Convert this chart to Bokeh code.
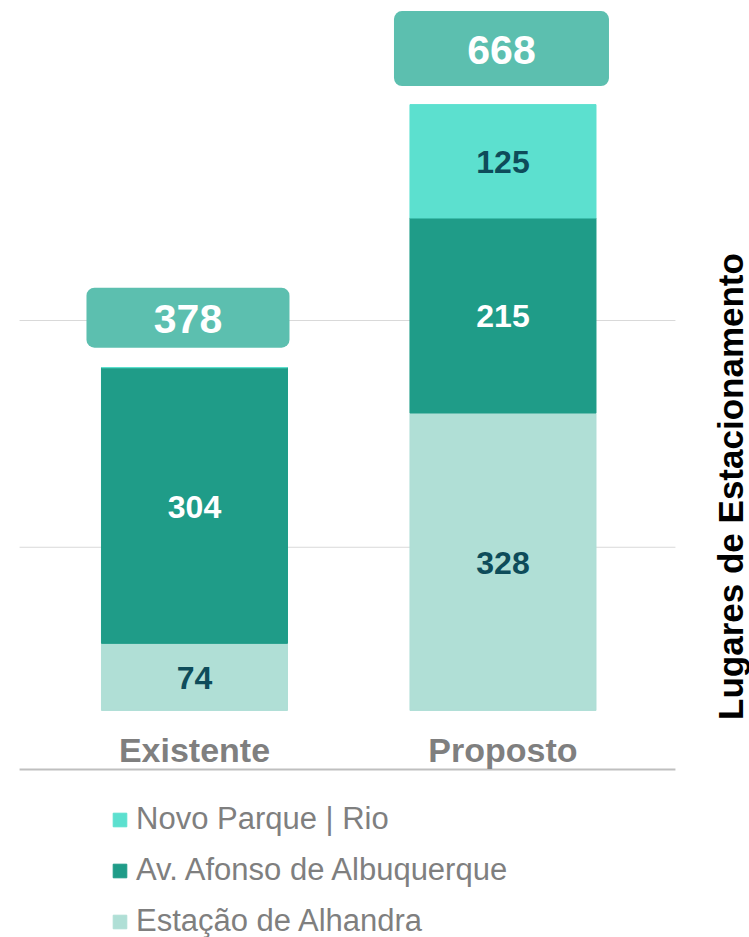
import math
from bokeh.plotting import figure
from bokeh.models import Range1d, Legend, LegendItem, Label, ColumnDataSource
from bokeh.core.properties import value
from bokeh.embed import file_html
from bokeh.resources import INLINE

# ---------------- data ----------------
categories = ["Existente", "Proposto"]
series_names = ["Estação de Alhandra", "Av. Afonso de Albuquerque", "Novo Parque | Rio"]
estacao = [74, 328]
afonso = [304, 215]
novo = [0, 125]
axis_title = "Lugares de Estacionamento"
grid_values = [180, 430]
baseline_value = -65

# ---------------- style ----------------
C_NOVO = "#5CE0CF"
C_AFONSO = "#1F9C88"
C_ESTACAO = "#B0DFD6"
C_BOX = "#5CBFAF"
C_DARK = "#0E4C5A"
C_GREY = "#7F7F7F"
FONT = "Liberation Sans"

W, H = 749, 937
X0, X1 = -0.6288, 1.7991
Y0, Y1 = -250.3, 782.8
px_per_unit_y = H / (Y1 - Y0)
px_per_unit_x = W / (X1 - X0)

totals = [a + b + c for a, b, c in zip(estacao, afonso, novo)]
xs = list(range(len(categories)))

p = figure(width=W, height=H, x_range=Range1d(X0, X1), y_range=Range1d(Y0, Y1),
           output_backend="svg", toolbar_location=None, min_border=0,
           x_axis_location=None, y_axis_location=None,
           outline_line_color=None, background_fill_color="white",
           border_fill_color="white")
p.grid.visible = False

# grid lines and base line
p.segment(x0=[-0.567] * len(grid_values), x1=[1.559] * len(grid_values),
          y0=grid_values, y1=grid_values, line_color="#D9D9D9", line_width=1.2)
p.segment(x0=[-0.567], x1=[1.559], y0=[baseline_value], y1=[baseline_value],
          line_color="#BFBFBF", line_width=2)

# stacked bars
src = ColumnDataSource(dict(x=xs, estacao=estacao, afonso=afonso, novo=novo))
rs = p.vbar_stack(["estacao", "afonso", "novo"], x="x", width=0.603, source=src,
                  color=[C_ESTACAO, C_AFONSO, C_NOVO])

# segment labels
lx, ly, lt, lc = [], [], [], []
stacks = [(estacao, C_DARK), (afonso, "white"), (novo, C_DARK)]
for i in xs:
    base = 0
    for vals, col in stacks:
        v = vals[i]
        if v > 0:
            lx.append(i)
            ly.append(base + v / 2)
            lt.append(str(v))
            lc.append(col)
        base += v
p.text(x=lx, y=ly, text=lt, text_color=lc, text_font=value(FONT),
       text_font_style="bold", text_font_size="32px", text_align="center",
       text_baseline="middle", y_offset=1)

# total boxes
box_w = [203, 215]
box_h = [60, 75]
box_gap_px = [50, 56]
box_dx_px = [-6.5, -1.5]
box_x = [x + d / px_per_unit_x for x, d in zip(xs, box_dx_px)]
box_y = [t + g / px_per_unit_y for t, g in zip(totals, box_gap_px)]
p.rect(x=box_x, y=box_y, width=box_w, height=box_h, width_units="screen",
       height_units="screen", fill_color=C_BOX, line_color=None, border_radius=8)
p.text(x=box_x, y=box_y, text=[str(t) for t in totals], text_color="white",
       text_font=value(FONT), text_font_style="bold", text_font_size="41px",
       text_align="center", text_baseline="middle", y_offset=1)

# category labels
p.text(x=xs, y=[0] * len(xs), text=categories, text_color=C_GREY,
       text_font=value(FONT), text_font_style="bold", text_font_size="34px",
       text_align="center", text_baseline="middle", y_offset=40)

# legend
legend = Legend(items=[LegendItem(label=series_names[2], renderers=[rs[2]]),
                       LegendItem(label=series_names[1], renderers=[rs[1]]),
                       LegendItem(label=series_names[0], renderers=[rs[0]])],
                location=(111, -2), orientation="vertical",
                label_text_font=FONT, label_text_font_size="31px",
                label_text_color=C_GREY, glyph_width=17, glyph_height=17,
                label_standoff=8, spacing=15, label_height=30, padding=0,
                margin=0, border_line_color=None, background_fill_alpha=0)
p.add_layout(legend)

# vertical title
p.add_layout(Label(x=730, y=451, x_units="screen", y_units="screen", text=axis_title,
                   angle=math.pi / 2, text_align="center", text_baseline="middle",
                   text_font=FONT, text_font_style="bold", text_font_size="35px",
                   text_color="black"))

open("out.html", "w").write(file_html(p, INLINE))
